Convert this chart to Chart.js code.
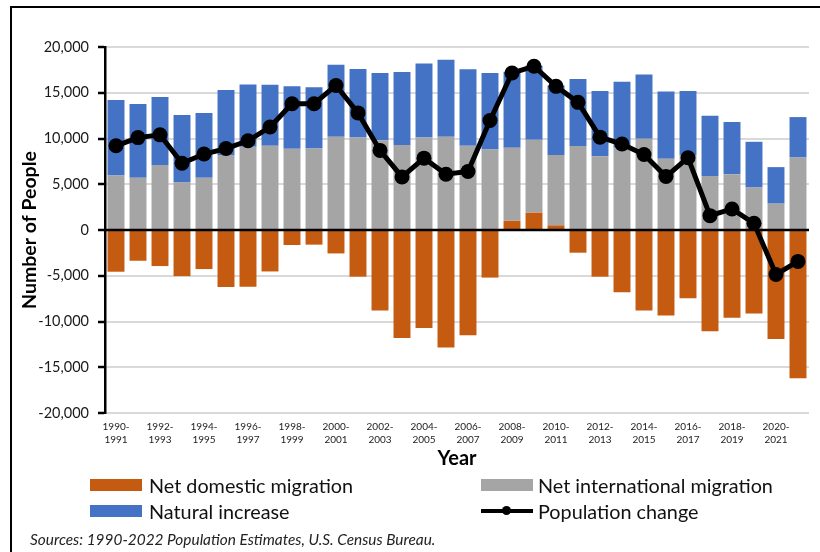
<!DOCTYPE html>
<html>
<head>
<meta charset="utf-8">
<script src="https://cdn.jsdelivr.net/npm/chart.js@4"></script>
<style>
  body { margin: 0; background: #fff; font-family: Lato, sans-serif; }
  #wrap { position: relative; width: 820px; height: 552px; overflow: hidden; }
  #box { position: absolute; left: 0; top: 0; width: 820px; height: 552px; }
  .frame { position: absolute; left: 10px; top: 6px; width: 830px; height: 600px; border-top: 2.5px solid #000; border-left: 2.5px solid #000; }
  .leg { position: absolute; font-size: 19.8px; line-height: 24px; color: #111; white-space: nowrap; }
  .sw { position: absolute; width: 52px; height: 12px; }
  .ln { position: absolute; width: 52px; height: 4px; background: #000; }
  .dot { position: absolute; width: 9px; height: 9px; border-radius: 50%; background: #000; }
  #src { position: absolute; left: 30px; top: 530px; font-size: 15.4px; font-style: italic; color: #222; white-space: nowrap; }
</style>
</head>
<body>
<div id="wrap">
  <div class="frame"></div>
  <div id="box"><canvas id="chart"></canvas></div>

  <div class="sw" style="left:90px; top:479px; background:#C55A11"></div>
  <div class="leg" style="left:149px; top:473px">Net domestic migration</div>
  <div class="sw" style="left:481px; top:479px; background:#A5A5A5"></div>
  <div class="leg" style="left:538px; top:473px">Net international migration</div>

  <div class="sw" style="left:90px; top:505px; background:#4472C4"></div>
  <div class="leg" style="left:149px; top:499px">Natural increase</div>
  <div class="ln" style="left:481px; top:509px"></div>
  <div class="dot" style="left:502px; top:506px"></div>
  <div class="leg" style="left:538px; top:499px">Population change</div>

  <div id="src">Sources: 1990-2022 Population Estimates, U.S. Census Bureau.</div>
</div>

<script>
const years = [
  '1990-1991', '1991-1992', '1992-1993', '1993-1994', '1994-1995', '1995-1996', '1996-1997', '1997-1998',
  '1998-1999', '1999-2000', '2000-2001', '2001-2002', '2002-2003', '2003-2004', '2004-2005', '2005-2006',
  '2006-2007', '2007-2008', '2008-2009', '2009-2010', '2010-2011', '2011-2012', '2012-2013', '2013-2014',
  '2014-2015', '2015-2016', '2016-2017', '2017-2018', '2018-2019', '2019-2020', '2020-2021', '2021-2022'
];

const domestic = [
  -4560, -3360, -3940, -5040, -4270, -6240, -6200, -4530,
  -1640, -1600, -2560, -5100, -8800, -11800, -10700, -12850,
  -11500, -5200, 1000, 1900, 500, -2480, -5100, -6800,
  -8800, -9350, -7450, -11060, -9600, -9130, -11900, -16200
];

const international = [
  5950, 5700, 7100, 5200, 5700, 8200, 9100, 9200,
  8870, 8900, 10190, 10100, 9800, 9300, 10100, 10200,
  9200, 8800, 8000, 7960, 7700, 9170, 8070, 9000,
  9970, 7780, 8200, 5900, 6100, 4640, 2880, 7920
];

const natural = [
  8250, 8070, 7430, 7360, 7100, 7100, 6800, 6680,
  6830, 6700, 7880, 7500, 7360, 7970, 8100, 8400,
  8360, 8360, 8300, 8100, 7600, 7330, 7130, 7200,
  7030, 7370, 7000, 6590, 5700, 5000, 3990, 4420
];

const popChange = [
  9200, 10100, 10400, 7300, 8300, 8900, 9750, 11250,
  13800, 13800, 15800, 12800, 8700, 5800, 7850, 6100,
  6400, 11970, 17160, 17900, 15700, 13950, 10150, 9400,
  8250, 5840, 7900, 1570, 2300, 730, -4860, -3430
];

const yMin = -20000;
const yMax = 20000;
const yStep = 5000;

// zero line drawn over the bars but under the population line
const zeroLine = {
  id: 'zeroLine',
  beforeDatasetDraw(chart, args) {
    if (args.meta.type !== 'line') return;
    const { ctx, chartArea, scales: { y } } = chart;
    const py = Math.round(y.getPixelForValue(0));
    ctx.save();
    ctx.strokeStyle = '#000';
    ctx.lineWidth = 2.5;
    ctx.beginPath();
    ctx.moveTo(chartArea.left, py);
    ctx.lineTo(chartArea.right, py);
    ctx.stroke();
    ctx.restore();
  }
};

const ctx = document.getElementById('chart').getContext('2d');
new Chart(ctx, {
  data: {
    labels: years,
    datasets: [
      {
        type: 'line',
        label: 'Population change',
        data: popChange,
        stack: 'pop',
        order: 0,
        borderColor: '#000',
        backgroundColor: '#000',
        borderWidth: 5,
        pointRadius: 7.5,
        pointBorderWidth: 0,
        tension: 0
      },
      {
        type: 'bar',
        label: 'Net domestic migration',
        data: domestic,
        stack: 'parts',
        order: 1,
        backgroundColor: '#C55A11'
      },
      {
        type: 'bar',
        label: 'Net international migration',
        data: international,
        stack: 'parts',
        order: 1,
        backgroundColor: '#A5A5A5'
      },
      {
        type: 'bar',
        label: 'Natural increase',
        data: natural,
        stack: 'parts',
        order: 1,
        backgroundColor: '#4472C4'
      }
    ]
  },
  options: {
    responsive: true,
    maintainAspectRatio: false,
    animation: false,
    datasets: {
      bar: { categoryPercentage: 1, barPercentage: 0.77 }
    },
    layout: { padding: { top: 47, right: 11, bottom: 79, left: 0 } },
    plugins: {
      legend: { display: false },
      tooltip: { enabled: false }
    },
    scales: {
      x: {
        stacked: true,
        grid: { display: false, drawTicks: false },
        border: { display: false },
        afterFit: (scale) => { scale.height = 60; },
        ticks: {
          autoSkip: false,
          maxRotation: 0,
          minRotation: 0,
          padding: 7.5,
          color: '#222',
          font: { family: 'Lato', size: 10, lineHeight: 1.3 },
          callback: (v, i) => i % 2 === 0 ? [years[i].slice(0, 5), years[i].slice(5)] : ''
        },
        title: {
          display: true,
          text: 'Year',
          color: '#000',
          font: { family: 'Lato', size: 20, weight: 'bold', lineHeight: 1.2 },
          padding: { top: 0, bottom: 2 }
        }
      },
      y: {
        stacked: true,
        min: yMin,
        max: yMax,
        afterFit: (scale) => { scale.width = 105; },
        ticks: {
          stepSize: yStep,
          padding: 9,
          color: '#1a1a1a',
          font: { family: 'Lato', size: 14.5 },
          callback: (v) => v.toLocaleString('en-US')
        },
        grid: {
          color: (c) => c.tick && c.tick.value === 0 ? '#000' : '#d9d9d9',
          lineWidth: 2,
          drawTicks: true,
          tickLength: 7,
          tickColor: '#000',
          tickWidth: 2.5
        },
        border: { display: true, color: '#000', width: 2.5 },
        title: {
          display: true,
          text: 'Number of People',
          color: '#000',
          font: { family: 'Lato', size: 19.5, weight: 'bold', lineHeight: 1.2 },
          padding: { top: 18, bottom: 0 }
        }
      }
    }
  },
  plugins: [zeroLine]
});
</script>
</body>
</html>
